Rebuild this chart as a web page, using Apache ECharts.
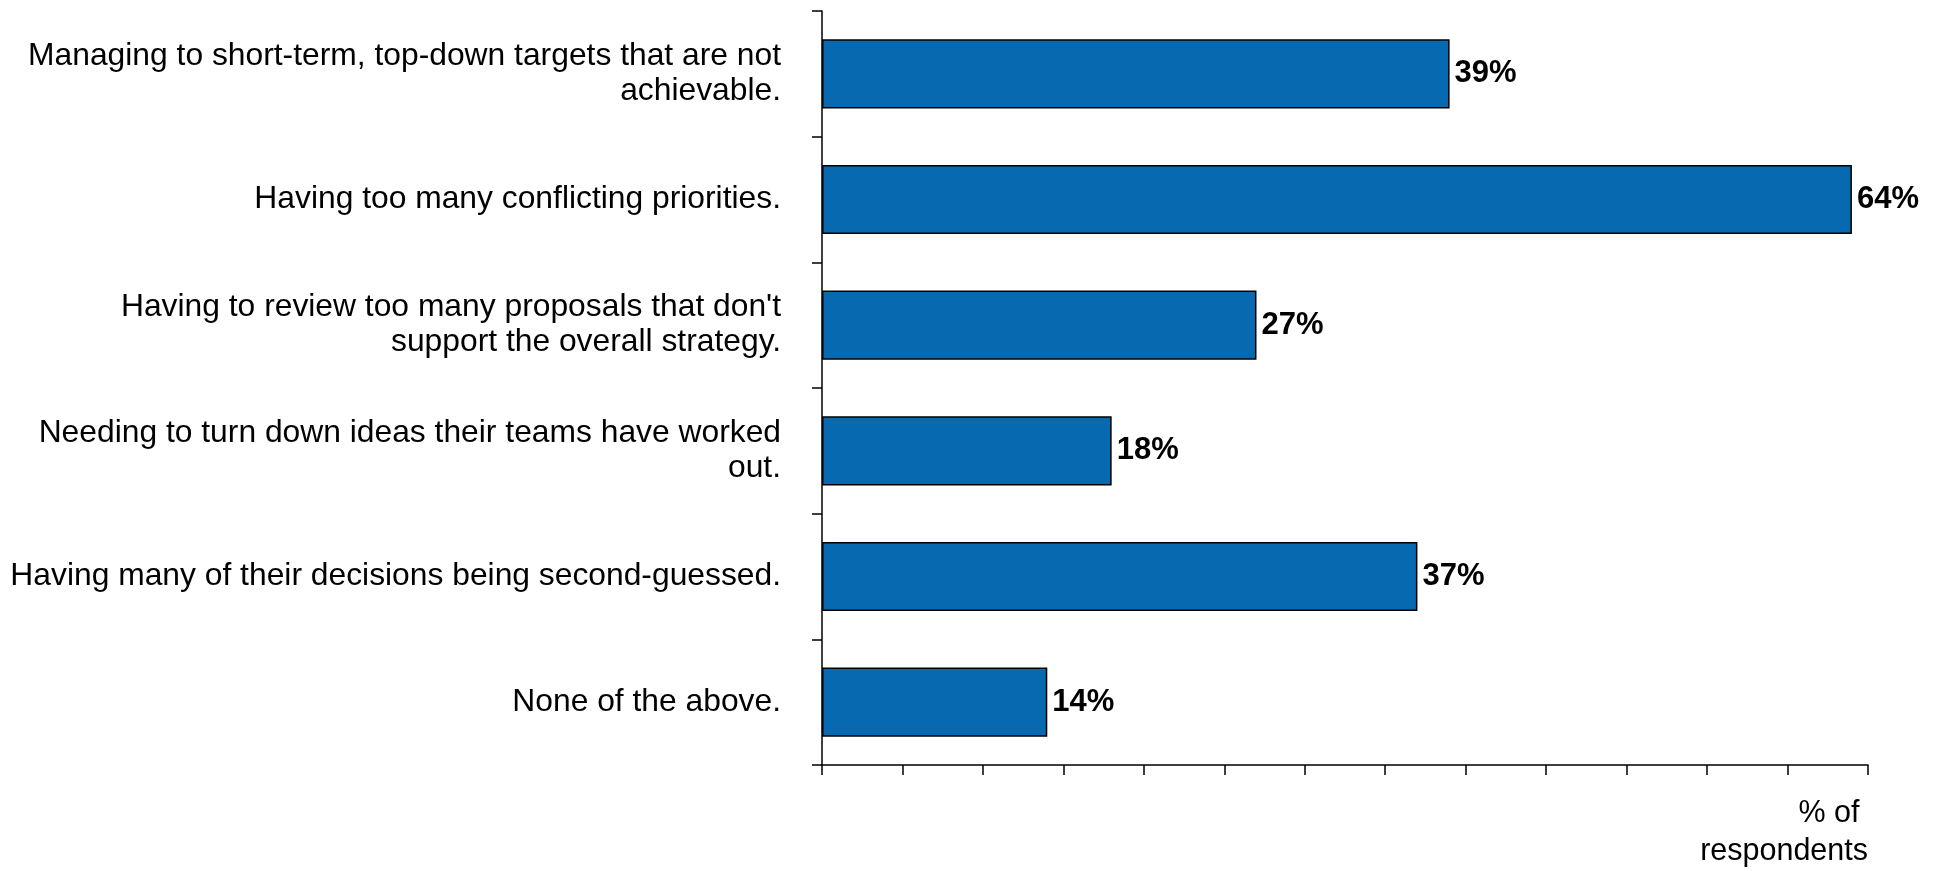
<!DOCTYPE html>
<html>
<head>
<meta charset="utf-8">
<style>
  html, body { margin: 0; padding: 0; background: #ffffff; }
  #chart { width: 1937px; height: 871px; }
</style>
<script src="https://cdn.jsdelivr.net/npm/echarts@6/dist/echarts.min.js"></script>
</head>
<body>
<div id="chart"></div>
<script>
// Survey answers, listed top to bottom
const categories = [
  "Managing to short-term, top-down targets that are not\nachievable.",
  "Having too many conflicting priorities.",
  "Having to review too many proposals that don't\nsupport the overall strategy.",
  "Needing to turn down ideas their teams have worked\nout.",
  "Having many of their decisions being second-guessed.",
  "None of the above."
];
// Share of respondents, in percent
const values = [39, 64, 27, 18, 37, 14];
const axisName = "% of \nrespondents";

const FONT = "'Liberation Sans', Arial, sans-serif";

const chart = echarts.init(document.getElementById('chart'), null, { renderer: 'canvas' });

chart.setOption({
  animation: false,
  backgroundColor: '#ffffff',
  grid: { left: 822, right: 69, top: 11, bottom: 103, containLabel: false },
  xAxis: {
    type: 'value',
    min: 0,
    max: 65,
    interval: 5,
    name: axisName,
    nameLocation: 'end',
    nameGap: 0,
    nameTextStyle: {
      fontFamily: FONT,
      fontSize: 30.5,
      color: '#000',
      align: 'right',
      verticalAlign: 'top',
      lineHeight: 38,
      padding: [30, 0, 0, 0]
    },
    axisLine: { show: true, lineStyle: { color: '#000', width: 1.5 } },
    axisTick: { show: true, length: 10, lineStyle: { color: '#000', width: 1.5 } },
    axisLabel: { show: false },
    splitLine: { show: false }
  },
  yAxis: {
    type: 'category',
    inverse: true,
    data: categories,
    axisLine: { show: true, lineStyle: { color: '#000', width: 1.5 } },
    axisTick: { show: true, length: 10, lineStyle: { color: '#000', width: 1.5 } },
    axisLabel: {
      margin: 41,
      fontFamily: FONT,
      fontSize: 31.8,
      color: '#000',
      align: 'right',
      lineHeight: 35,
      padding: [8, 0, 0, 0]
    },
    splitLine: { show: false }
  },
  series: [{
    type: 'bar',
    data: values,
    barCategoryGap: '45%',
    itemStyle: { color: '#076AB0', borderColor: '#000', borderWidth: 1.5 },
    label: {
      show: true,
      position: 'right',
      distance: 5,
      formatter: '{c}%',
      fontFamily: FONT,
      fontSize: 31,
      fontWeight: 'bold',
      color: '#000'
    }
  }]
});
</script>
</body>
</html>
